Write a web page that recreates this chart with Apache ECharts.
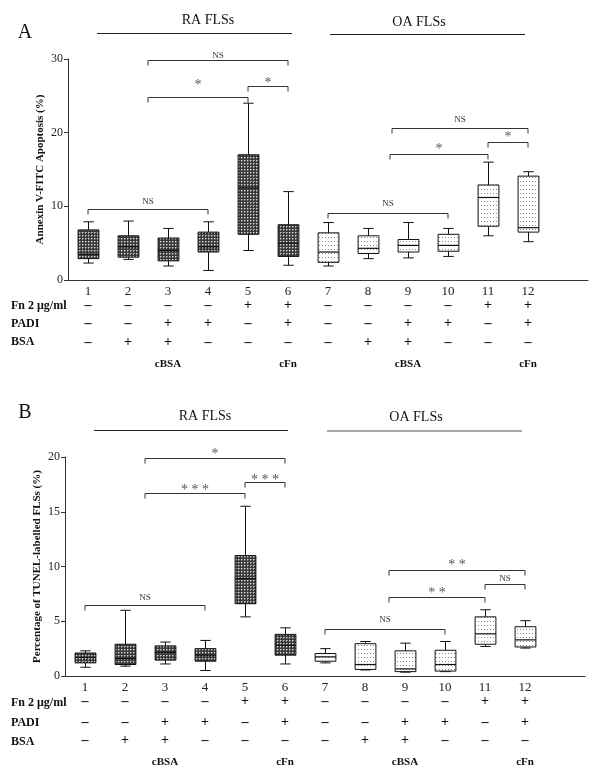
<!DOCTYPE html>
<html><head><meta charset="utf-8">
<script src="https://cdn.jsdelivr.net/npm/echarts/dist/echarts.min.js"></script>
<style>html,body{margin:0;padding:0;background:#fff}#c{width:600px;height:768px}</style>
</head><body><div id="c"></div>
<script>
// ---------- data ----------
const categories = ['1','2','3','4','5','6','7','8','9','10','11','12'];
const cellGroup = ['RA','RA','RA','RA','RA','RA','OA','OA','OA','OA','OA','OA'];
const fnRow   = ['–','–','–','–','+','+','–','–','–','–','+','+'];
const padiRow = ['–','–','+','+','–','+','–','–','+','+','–','+'];
const bsaRow  = ['–','+','+','–','–','–','–','+','+','–','–','–'];
const groupRow = ['','','cBSA','','','cFn','','','cBSA','','','cFn'];
const rowNames = ['Fn 2 μg/ml','PADI','BSA'];
const yTicksA = [0, 10, 20, 30];
const yTicksB = [0, 5, 10, 15, 20];

// [min, Q1, median, Q3, max]
const boxA = [
  [2.3, 2.9, 3.5, 6.8, 7.9],
  [2.8, 3.1, 4.5, 6.0, 8.0],
  [1.9, 2.6, 4.0, 5.7, 7.0],
  [1.3, 3.8, 4.5, 6.5, 7.9],
  [4.0, 6.2, 12.5, 17.0, 24.0],
  [2.0, 3.2, 5.0, 7.5, 12.0],
  [1.9, 2.4, 3.8, 6.4, 7.8],
  [2.9, 3.6, 4.3, 6.0, 7.0],
  [3.0, 3.8, 4.7, 5.5, 7.8],
  [3.2, 3.9, 4.7, 6.2, 7.0],
  [6.0, 7.3, 11.2, 12.9, 16.0],
  [5.2, 6.5, 7.1, 14.1, 14.7]
];
const boxB = [
  [0.8, 1.2, 1.7, 2.1, 2.3],
  [0.9, 1.05, 1.6, 2.9, 6.0],
  [1.1, 1.45, 2.15, 2.75, 3.1],
  [0.5, 1.35, 1.9, 2.5, 3.25],
  [5.4, 6.6, 8.9, 11.0, 15.5],
  [1.1, 1.9, 2.8, 3.8, 4.4],
  [1.2, 1.35, 1.75, 2.05, 2.5],
  [0.55, 0.6, 1.05, 2.95, 3.15],
  [0.35, 0.4, 0.65, 2.3, 3.0],
  [0.4, 0.45, 1.05, 2.35, 3.15],
  [2.7, 2.9, 3.85, 5.4, 6.05],
  [2.55, 2.65, 3.3, 4.5, 5.05]
];
// [from category, to category, bracket value, label value, text]
const bracketsA = [
  [2.5, 6, 29.8, 30.5, 'NS'],
  [2.5, 5, 24.8, 26.8, '*'],
  [5, 6, 26.3, 27.1, '*'],
  [1, 4, 9.6, 10.6, 'NS'],
  [8.6, 12, 20.7, 21.8, 'NS'],
  [8.55, 11, 17.05, 18.1, '*'],
  [11, 12, 18.8, 19.8, '*'],
  [7, 10, 9.05, 10.3, 'NS']
];
const bracketsB = [
  [2.5, 6, 19.95, 20.55, '*'],
  [2.5, 5, 16.7, 17.25, '* * *'],
  [5, 6, 17.75, 18.15, '* * *'],
  [1, 4, 6.5, 7.15, 'NS'],
  [8.6, 12, 9.66, 10.34, '* *'],
  [11, 12, 8.4, 8.88, 'NS'],
  [8.6, 11, 7.25, 7.85, '* *'],
  [7, 10, 4.3, 5.18, 'NS']
];

// ---------- styling helpers ----------
const SERIF = '"Liberation Serif", "DejaVu Serif", serif';
function makePattern(w, h, bg, dots) {
  const c = document.createElement('canvas');
  c.width = w; c.height = h;
  const g = c.getContext('2d');
  g.fillStyle = bg; g.fillRect(0, 0, w, h);
  dots.forEach(d => { g.fillStyle = d[2]; g.fillRect(d[0], d[1], 1, 1); });
  return c;
}
const patRA = { image: makePattern(3, 3, '#3a3a3a', [[1, 1, '#d0d0d0'], [2, 1, '#8a8a8a'], [1, 2, '#8a8a8a']]), repeat: 'repeat' };
const patOA = { image: makePattern(3, 4, '#ffffff', [[1, 1, '#8a8a8a']]), repeat: 'repeat' };

function renderBox(params, api) {
  const i = api.value(0);
  const lo = api.coord([i, api.value(1)]);
  const q1 = api.coord([i, api.value(2)]);
  const md = api.coord([i, api.value(3)]);
  const q3 = api.coord([i, api.value(4)]);
  const hi = api.coord([i, api.value(5)]);
  const band = api.size([1, 0])[0];
  const cx = Math.round(lo[0]) + 0.5;
  const hw = band * 0.26, cw = band * 0.13;
  const ls = { stroke: '#111', lineWidth: 1 };
  return {
    type: 'group',
    children: [
      { type: 'line', shape: { x1: cx, y1: hi[1], x2: cx, y2: q3[1] }, style: ls },
      { type: 'line', shape: { x1: cx, y1: q1[1], x2: cx, y2: lo[1] }, style: ls },
      { type: 'line', shape: { x1: cx - cw, y1: hi[1], x2: cx + cw, y2: hi[1] }, style: ls },
      { type: 'line', shape: { x1: cx - cw, y1: lo[1], x2: cx + cw, y2: lo[1] }, style: ls },
      { type: 'rect', shape: { x: cx - hw, y: q3[1], width: 2 * hw, height: q1[1] - q3[1] },
        style: { fill: cellGroup[i] === 'RA' ? patRA : patOA, stroke: '#111', lineWidth: 1 } },
      { type: 'line', shape: { x1: cx - hw, y1: md[1], x2: cx + hw, y2: md[1] }, style: { stroke: '#111', lineWidth: 1.2 } }
    ]
  };
}

function catX(api, c) {
  const idx = c - 1;
  const base = Math.floor(idx);
  const p = api.coord([base, 0]);
  return p[0] + (idx - base) * api.size([1, 0])[0];
}
function renderBracket(params, api) {
  const x1 = catX(api, api.value(0));
  const x2 = catX(api, api.value(1));
  const y = Math.round(api.coord([0, api.value(2)])[1]) + 0.5;
  const ly = api.coord([0, api.value(3)])[1];
  const txt = api.value(4);
  const star = txt.indexOf('*') >= 0;
  const ls = { stroke: '#333', lineWidth: 1 };
  return {
    type: 'group',
    children: [
      { type: 'line', shape: { x1: x1, y1: y, x2: x2, y2: y }, style: ls },
      { type: 'line', shape: { x1: x1, y1: y, x2: x1, y2: y + 5 }, style: ls },
      { type: 'line', shape: { x1: x2, y1: y, x2: x2, y2: y + 5 }, style: ls },
      { type: 'text', x: (x1 + x2) / 2, y: ly + (star ? 3 : 0),
        style: { text: txt, fill: star ? '#555' : '#333', font: (star ? '14px ' : '9px ') + SERIF,
                 align: 'center', verticalAlign: 'middle', textAlign: 'center', textVerticalAlign: 'middle' } }
    ]
  };
}

function xLabelFormatter(value, idx) {
  if (idx >= categories.length) return '';
  let s = '{n|' + categories[idx] + '}\n{f|' + fnRow[idx] + '}\n{p|' + padiRow[idx] + '}\n{b|' + bsaRow[idx] + '}';
  if (groupRow[idx]) s += '\n{g|' + groupRow[idx] + '}';
  return s;
}
function richFor(lh) {
  const sign = { fontFamily: SERIF, fontWeight: 'bold', fontSize: 14, color: '#111' };
  return {
    n: { fontFamily: SERIF, fontSize: 13, color: '#222', lineHeight: lh[0] },
    f: Object.assign({}, sign, { lineHeight: lh[1] }),
    p: Object.assign({}, sign, { lineHeight: lh[2] }),
    b: Object.assign({}, sign, { lineHeight: lh[3] }),
    g: { fontFamily: SERIF, fontWeight: 'bold', fontSize: 11, color: '#111', lineHeight: lh[4] }
  };
}
function xAxisFor(gi, lh) {
  return {
    type: 'category', gridIndex: gi,
    data: categories.concat(['']),
    boundaryGap: true,
    axisLine: { lineStyle: { color: '#333', width: 1 } },
    axisTick: { alignWithLabel: true, interval: 0, length: 4, lineStyle: { color: '#333' } },
    axisLabel: { interval: 0, margin: 6, formatter: xLabelFormatter, rich: richFor(lh) },
    splitLine: { show: false }
  };
}
function yAxisFor(gi, ticks, name) {
  return {
    type: 'value', gridIndex: gi,
    min: ticks[0], max: ticks[ticks.length - 1], interval: ticks[1] - ticks[0],
    axisLine: { show: true, lineStyle: { color: '#333', width: 1 } },
    axisTick: { show: true, length: 4, lineStyle: { color: '#333' } },
    axisLabel: { margin: 5, fontFamily: SERIF, fontSize: 12, color: '#222' },
    splitLine: { show: false },
    name: name, nameLocation: 'middle', nameRotate: 90, nameGap: 22, nameMoveOverlap: false,
    nameTextStyle: { fontFamily: SERIF, fontWeight: 'bold', fontSize: 11, color: '#111' }
  };
}

const chart = echarts.init(document.getElementById('c'), null, { renderer: 'canvas' });

function txt(x, y, s, font, align) {
  return { type: 'text', x: x, y: y, style: { text: s, font: font, fill: '#111', align: align || 'center', verticalAlign: 'middle' } };
}
function hline(x1, x2, y, color) {
  return { type: 'line', shape: { x1: x1, y1: y, x2: x2, y2: y }, style: { stroke: color || '#222', lineWidth: 1.2 } };
}
const titleFont = '14px ' + SERIF;
const rowFont = 'bold 12px ' + SERIF;

chart.setOption({
  animation: false,
  backgroundColor: '#fff',
  grid: [
    { left: 68, top: 59, width: 520, height: 221 },
    { left: 65, top: 457, width: 520, height: 220 }
  ],
  xAxis: [
    xAxisFor(0, [12, 15.4, 19.8, 18.2, 25.2]),
    xAxisFor(1, [12, 15.4, 25.2, 11.8, 32.2])
  ],
  yAxis: [
    yAxisFor(0, yTicksA, 'Annexin V-FITC Apoptosis (%)'),
    yAxisFor(1, yTicksB, 'Percentage of TUNEL-labelled FLSs (%)')
  ],
  graphic: [
    txt(25, 33, 'A', '20px ' + SERIF),
    txt(208, 20, 'RA FLSs', titleFont), hline(97, 292, 33.5),
    txt(419, 22, 'OA FLSs', titleFont), hline(330, 525, 34.5),
    txt(11, 306, rowNames[0], rowFont, 'left'),
    txt(11, 323.5, rowNames[1], rowFont, 'left'),
    txt(11, 342.3, rowNames[2], rowFont, 'left'),
    txt(25, 413, 'B', '20px ' + SERIF),
    txt(205, 416.5, 'RA FLSs', titleFont), hline(94, 288, 430.5),
    txt(416, 417.5, 'OA FLSs', titleFont), hline(327, 522, 431, '#555'),
    txt(11, 703, rowNames[0], rowFont, 'left'),
    txt(11, 723, rowNames[1], rowFont, 'left'),
    txt(11, 741.5, rowNames[2], rowFont, 'left')
  ],
  series: [
    { type: 'custom', xAxisIndex: 0, yAxisIndex: 0, renderItem: renderBox,
      encode: { x: 0, y: [1, 2, 3, 4, 5] }, data: boxA.map((d, i) => [i].concat(d)) },
    { type: 'custom', xAxisIndex: 1, yAxisIndex: 1, renderItem: renderBox,
      encode: { x: 0, y: [1, 2, 3, 4, 5] }, data: boxB.map((d, i) => [i].concat(d)) },
    { type: 'custom', xAxisIndex: 0, yAxisIndex: 0, renderItem: renderBracket,
      dimensions: ['a', 'b', 'y', 'ly', { name: 't', type: 'ordinal' }],
      encode: { x: -1, y: 2 }, data: bracketsA },
    { type: 'custom', xAxisIndex: 1, yAxisIndex: 1, renderItem: renderBracket,
      dimensions: ['a', 'b', 'y', 'ly', { name: 't', type: 'ordinal' }],
      encode: { x: -1, y: 2 }, data: bracketsB }
  ]
});
</script></body></html>
